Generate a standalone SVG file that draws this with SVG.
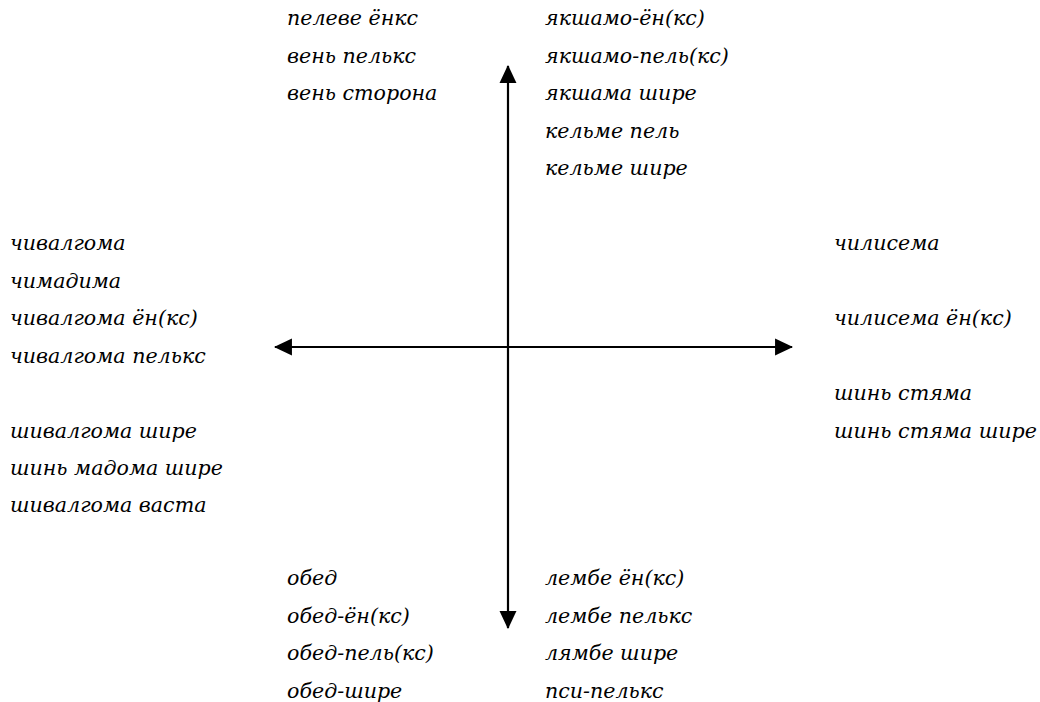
<svg xmlns="http://www.w3.org/2000/svg" width="1040" height="702" viewBox="0 0 1040 702">
<style>
text{font-family:"DejaVu Serif","Liberation Serif",serif;font-style:italic;font-size:20.6px;fill:#000}
.ax{stroke:#000;stroke-width:2.2;fill:none}
</style>
<defs>
<marker id="ah" markerUnits="userSpaceOnUse" markerWidth="18" markerHeight="18" viewBox="0 0 17 16" refX="16" refY="8" orient="auto">
<path d="M0,0 L17,8 L0,16 Z" fill="#000"/>
</marker>
</defs>
<rect width="1040" height="702" fill="#fff"/>
<g id="connectors">
<line class="ax" x1="508" y1="347" x2="508" y2="66" marker-end="url(#ah)"/>
<line class="ax" x1="508" y1="347" x2="508" y2="628" marker-end="url(#ah)"/>
<line class="ax" x1="508" y1="347" x2="275" y2="347" marker-end="url(#ah)"/>
<line class="ax" x1="508" y1="347" x2="792" y2="347" marker-end="url(#ah)"/>
</g>
<g id="top-left">
<text x="287" y="25">пелеве ёнкс</text>
<text x="287" y="62.5">вень пелькс</text>
<text x="287" y="100">вень сторона</text>
</g>
<g id="top-right">
<text x="545" y="25">якшамо-ён(кс)</text>
<text x="545" y="62.5">якшамо-пель(кс)</text>
<text x="545" y="100">якшама шире</text>
<text x="545" y="137.5">кельме пель</text>
<text x="545" y="175">кельме шире</text>
</g>
<g id="left">
<text x="10" y="250">чивалгома</text>
<text x="10" y="287.5">чимадима</text>
<text x="10" y="325">чивалгома ён(кс)</text>
<text x="10" y="362.5">чивалгома пелькс</text>
<text x="10" y="437.5">шивалгома шире</text>
<text x="10" y="475">шинь мадома шире</text>
<text x="10" y="512">шивалгома васта</text>
</g>
<g id="right">
<text x="834" y="250">чилисема</text>
<text x="834" y="325">чилисема ён(кс)</text>
<text x="834" y="400">шинь стяма</text>
<text x="834" y="437.5">шинь стяма шире</text>
</g>
<g id="bottom-left">
<text x="287" y="585">обед</text>
<text x="287" y="622.5">обед-ён(кс)</text>
<text x="287" y="660">обед-пель(кс)</text>
<text x="287" y="697.5">обед-шире</text>
</g>
<g id="bottom-right">
<text x="545" y="585">лембе ён(кс)</text>
<text x="545" y="622.5">лембе пелькс</text>
<text x="545" y="660">лямбе шире</text>
<text x="545" y="697.5">пси-пелькс</text>
</g>
</svg>
